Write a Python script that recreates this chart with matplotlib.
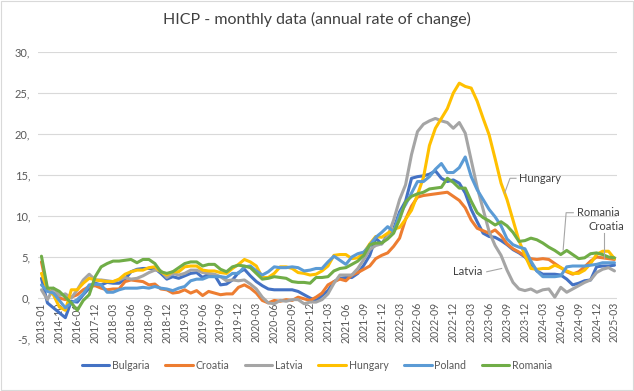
import numpy as np
import pandas as pd
import matplotlib
matplotlib.use("Agg")
import matplotlib.pyplot as plt

plt.rcParams["font.family"] = ["Lato", "DejaVu Sans"]

# categories: a few sparse early points, then monthly 2017-12 .. 2025-03
early = ["2013-01", "2013-07", "2014-03", "2014-10", "2015-03",
         "2015-08", "2016-01", "2016-07", "2017-02"]
monthly = list(pd.period_range("2017-12", "2025-03", freq="M").strftime("%Y-%m"))
categories = early + monthly

bulgaria = [2.4, -0.6, -1.2, -1.8, -2.4, -0.4, -0.5, 0.4, 1.2,
            1.8,
            1.6, 1.9, 1.8, 1.8, 2.3, 3.2, 3.5, 3.6, 3.6, 3.6, 3.0, 2.3,
            2.6, 2.4, 2.7, 3.0, 3.1, 2.5, 2.9, 2.8, 1.6, 1.7, 2.2, 3.1,
            3.5, 2.7, 2.0, 1.5, 1.1, 1.0, 1.0, 1.0, 1.0, 0.8, 0.4, 0.0,
            -0.3, 0.3, 0.9, 2.0, 2.4, 2.5, 2.5, 3.0, 4.0, 5.2, 7.3, 6.6,
            7.7, 8.4, 10.5, 11.8, 14.6, 14.8, 14.9, 15.1, 15.5, 14.6, 14.2, 14.4,
            14.0, 12.8, 10.8, 9.3, 7.9, 7.5, 7.4, 7.0, 6.5, 5.9, 5.5, 5.0,
            4.2, 3.3, 2.9, 2.9, 2.9, 2.8, 2.3, 1.6, 1.8, 2.1, 2.2, 3.8,
            3.9, 3.9, 4.0]
croatia = [4.4, 1.0, 0.6, 0.0, -0.2, 0.1, 0.4, 1.0, 1.4,
           1.5,
           1.2, 1.0, 1.1, 1.1, 2.0, 2.2, 2.1, 2.0, 1.6, 1.7, 1.1, 1.0,
           0.6, 0.7, 1.0, 0.6, 0.9, 0.3, 0.8, 0.6, 0.4, 0.5, 0.5, 1.3,
           1.6, 1.2, 0.6, -0.3, -0.6, -0.3, -0.4, -0.2, -0.3, 0.1, -0.1, -0.3,
           0.1, 0.6, 1.6, 2.0, 2.3, 2.1, 2.8, 3.1, 3.5, 3.9, 4.8, 5.2,
           5.5, 6.3, 7.3, 9.6, 11.2, 12.3, 12.5, 12.6, 12.7, 12.8, 12.9, 12.4,
           11.9, 11.0, 9.5, 8.5, 8.2, 7.9, 8.3, 7.6, 6.6, 6.0, 5.6, 5.1,
           4.8, 4.7, 4.8, 4.7, 4.2, 3.7, 3.2, 2.9, 3.2, 3.8, 4.5, 5.0,
           4.9, 4.8, 4.7]
latvia = [1.0, -0.2, 1.2, 0.3, 0.5, 0.0, 1.0, 2.2, 2.9,
          2.2,
          2.2, 2.1, 2.0, 2.2, 2.5, 2.3, 2.4, 2.7, 3.1, 3.4, 3.3, 2.5,
          3.0, 2.8, 3.0, 3.4, 3.4, 3.1, 3.0, 2.9, 2.6, 2.1, 2.2, 2.1,
          2.2, 1.7, 1.1, 0.1, -0.6, -0.7, -0.3, -0.4, -0.2, -0.2, -0.7, -0.5,
          -0.5, -0.2, 0.5, 1.8, 2.8, 2.8, 2.8, 3.6, 4.7, 5.9, 6.4, 6.6,
          7.5, 9.5, 12.0, 13.8, 17.5, 20.3, 21.2, 21.6, 21.9, 21.6, 21.4, 20.7,
          21.4, 20.1, 16.8, 13.5, 10.8, 8.1, 6.4, 5.2, 3.4, 1.9, 1.1, 0.9,
          1.1, 0.7, 1.0, 1.1, 0.1, 1.3, 0.7, 1.1, 1.5, 1.9, 2.2, 3.1,
          3.5, 3.7, 3.3]
hungary = [3.0, 1.0, 0.4, -1.1, -1.5, 1.0, 1.0, 1.8, 2.4,
           2.2,
           2.1, 2.0, 2.0, 2.3, 2.9, 3.2, 3.4, 3.4, 3.7, 3.8, 3.2, 2.8,
           3.2, 3.2, 3.8, 3.9, 3.9, 3.4, 3.3, 3.3, 3.1, 3.0, 3.6, 4.1,
           4.7, 4.4, 3.9, 2.5, 2.5, 3.0, 3.8, 3.8, 3.6, 3.1, 3.0, 2.8,
           2.9, 3.3, 3.9, 5.2, 5.3, 5.3, 4.8, 4.9, 5.5, 6.6, 7.5, 7.4,
           7.9, 8.4, 8.6, 9.6, 10.7, 12.6, 14.7, 18.6, 20.7, 21.9, 23.1, 25.0,
           26.2, 25.8, 25.6, 24.0, 21.9, 19.9, 17.0, 14.0, 12.0, 9.5, 7.0, 5.2,
           3.6, 3.5, 3.6, 3.6, 4.0, 3.7, 3.3, 3.0, 3.0, 3.4, 4.2, 5.3,
           5.7, 5.7, 4.8]
poland = [1.6, 0.8, 0.6, -0.3, -1.2, -0.6, -0.2, 0.5, 1.6,
          1.7,
          1.6, 0.7, 0.7, 1.0, 1.2, 1.2, 1.2, 1.3, 1.2, 1.4, 1.2, 1.1,
          0.9, 1.2, 1.4, 2.1, 2.3, 2.3, 2.6, 2.6, 2.6, 2.5, 3.0, 3.0,
          3.8, 3.9, 3.3, 2.8, 3.2, 3.8, 3.7, 3.7, 3.8, 3.7, 3.3, 3.4,
          3.6, 3.6, 4.4, 5.1, 4.6, 4.1, 5.0, 5.4, 5.6, 6.4, 7.4, 8.0,
          8.7, 8.1, 10.2, 11.4, 12.8, 14.2, 14.2, 14.8, 15.7, 16.4, 15.3, 15.3,
          15.9, 17.2, 14.8, 13.2, 12.0, 10.8, 9.9, 8.8, 7.2, 6.5, 6.2, 6.0,
          4.5, 3.3, 2.6, 2.6, 2.6, 2.7, 3.8, 3.9, 3.9, 3.9, 4.0, 4.1,
          4.3, 4.3, 4.3]
romania = [5.1, 1.2, 1.2, 0.8, 0.1, -0.6, -1.5, -0.3, 0.4,
           2.6,
           3.8, 4.2, 4.5, 4.5, 4.6, 4.7, 4.3, 4.7, 4.7, 4.2, 3.2, 3.0,
           3.2, 3.7, 4.2, 4.4, 4.4, 3.9, 4.1, 4.1, 3.5, 3.2, 3.8, 4.0,
           3.9, 3.7, 3.0, 2.3, 2.4, 2.6, 2.5, 2.4, 2.0, 1.9, 1.9, 1.8,
           2.5, 2.5, 2.6, 3.3, 3.6, 3.7, 4.1, 4.5, 5.2, 6.5, 6.7, 6.7,
           7.2, 7.9, 9.6, 11.7, 12.4, 12.7, 12.9, 13.3, 13.4, 13.5, 14.6, 14.1,
           13.4, 13.4, 11.8, 10.4, 9.8, 9.4, 8.9, 9.3, 8.8, 8.0, 6.9, 7.0,
           7.3, 7.1, 6.7, 6.2, 5.8, 5.3, 5.8, 5.3, 4.8, 4.9, 5.4, 5.5,
           5.3, 5.0, 4.9]

series = [("Bulgaria", bulgaria, "#4472C4"),
          ("Croatia", croatia, "#ED7D31"),
          ("Latvia", latvia, "#A5A5A5"),
          ("Hungary", hungary, "#FFC000"),
          ("Poland", poland, "#5B9BD5"),
          ("Romania", romania, "#70AD47")]

yticks = [-5, 0, 5, 10, 15, 20, 25, 30]

fig = plt.figure(figsize=(6.34, 3.91), dpi=100)
ax = fig.add_axes([0.0607, 0.133, 0.9132, 0.734])

x = np.arange(len(categories))
for name, vals, col in series:
    ax.plot(x, vals, color=col, lw=2.2, label=name, solid_joinstyle="round",
            solid_capstyle="round")

# category axis crosses the value axis at zero, labels sit just under it
ax.spines["bottom"].set_position(("data", 0))
ax.set_xlim(-0.5, len(categories) - 0.5)
ax.set_ylim(-5, 30)
ax.set_yticks(yticks)
ax.set_yticklabels([f"{v}," for v in yticks])
ax.set_xticks(x[::3])
ax.set_xticklabels(categories[::3], rotation=90)
ax.tick_params(length=0, labelsize=8, labelcolor="#595959")
ax.tick_params(axis="x", labelsize=7.6, pad=3)
ax.tick_params(axis="y", pad=6)
ax.grid(axis="y", color="#D9D9D9", lw=0.8)
ax.set_axisbelow(True)
for s in ax.spines.values():
    s.set_visible(False)

# callout labels
lc = "#A6A6A6"
tc = "#404040"
ax.plot([77.6, 78.5, 79.5], [12.8, 14.6, 14.6], color=lc, lw=0.8)
ax.text(80.0, 14.6, "Hungary", fontsize=8, color=tc, va="center")
ax.plot([87.4, 87.9, 89.1], [5.85, 10.4, 10.4], color=lc, lw=0.8)
ax.text(89.7, 10.4, "Romania", fontsize=8, color=tc, va="center")
ax.plot([94.3, 94.3], [4.85, 7.95], color=lc, lw=0.8)
ax.text(91.7, 8.7, "Croatia", fontsize=8, color=tc, va="center")
ax.plot([74.6, 77.1], [3.2, 3.6], color=lc, lw=0.8)
ax.text(73.9, 3.2, "Latvia", fontsize=8, color=tc, va="center", ha="right")

fig.text(0.5, 0.949, "HICP - monthly data (annual rate of change)",
         ha="center", va="center", fontsize=11.5, color="#404040")

fig.legend(loc="center", bbox_to_anchor=(0.5, 0.066), ncol=6, frameon=False,
           fontsize=7.6, handlelength=2.6, columnspacing=1.5, handletextpad=0.25,
           labelcolor="#595959")

fig.patches.append(plt.Rectangle((0.002, 0.003), 0.996, 0.994,
                                 transform=fig.transFigure, fill=False,
                                 edgecolor="#D9D9D9", lw=0.8))

fig.savefig("out.png", dpi=100)
